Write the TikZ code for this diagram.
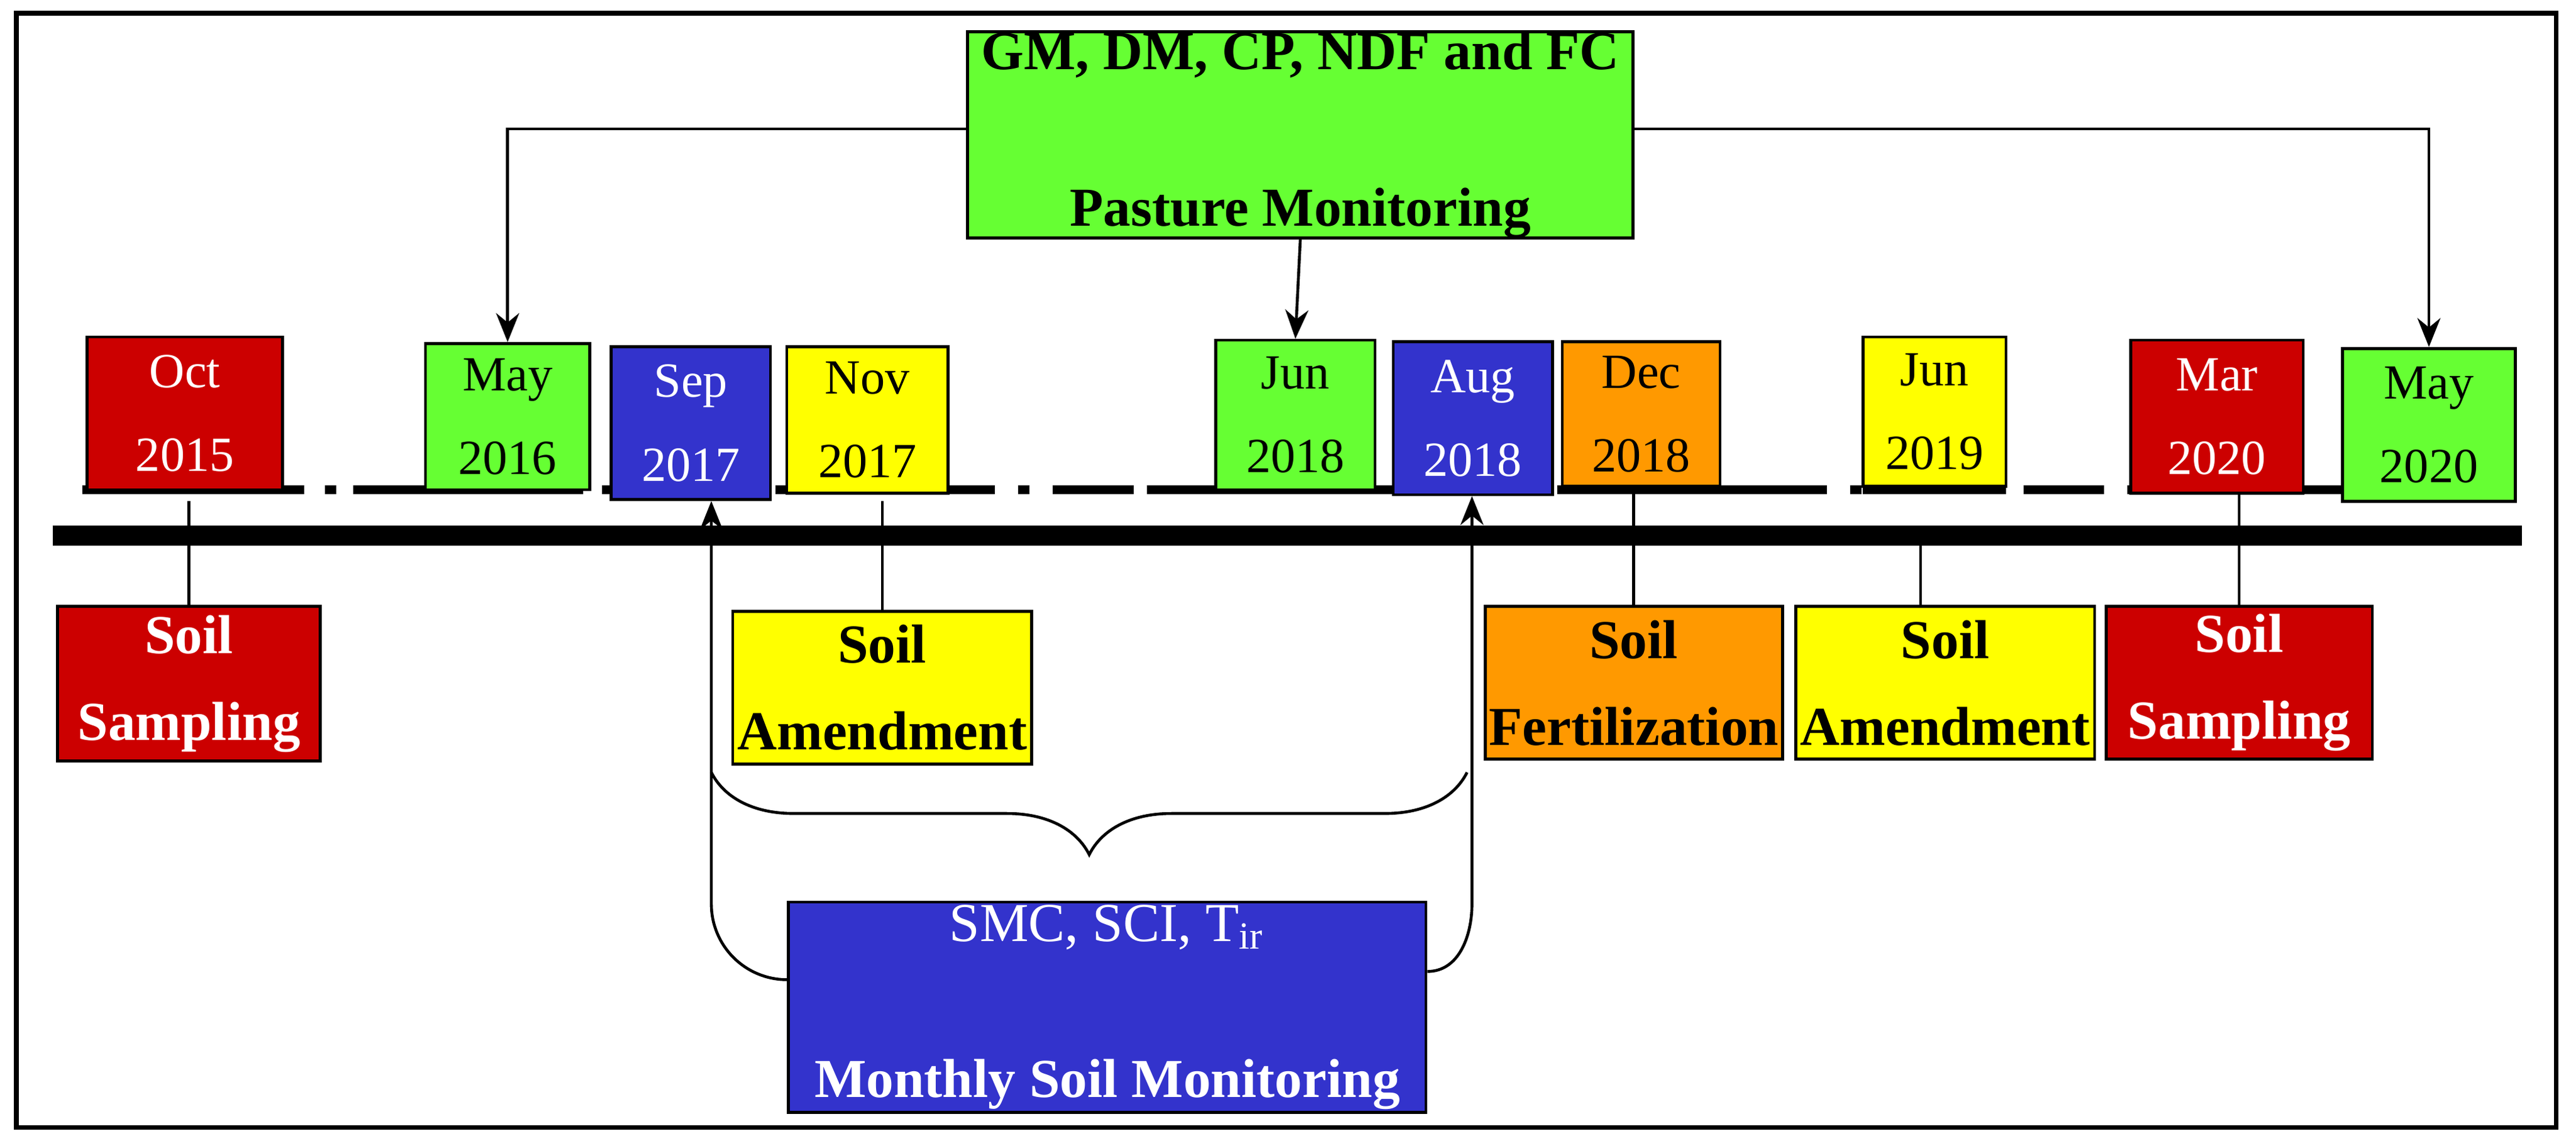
\documentclass[tikz,border=0pt]{standalone}
\usepackage{fontspec}
\setmainfont{Liberation Serif}
\usetikzlibrary{decorations.pathreplacing,arrows.meta}
\definecolor{cred}{RGB}{204,0,0}
\definecolor{cgreen}{RGB}{102,255,51}
\definecolor{cblue}{RGB}{51,51,204}
\definecolor{cyel}{RGB}{255,255,0}
\definecolor{corg}{RGB}{255,153,0}
\tikzset{
 bx/.style={draw=black,line width=0.5pt,align=center,inner sep=0pt},
 date/.style={bx,font=\fontsize{8.5}{10.5}\selectfont},
 lab/.style={bx,font=\bfseries\fontsize{9.5}{13}\selectfont},
 wt/.style={text=white},
 arr/.style={line width=0.5pt,-{Stealth[length=5pt,width=4pt]}},
 ln/.style={line width=0.5pt}
}
\newcommand{\mybox}[7]{\node[#6,minimum width={(#4-#2)*0.01cm},minimum height={(#5-#3)*0.01cm}] (#1) at ({(#2+#4)/2},{(#3+#5)/2}) {#7};}
\begin{document}
\begin{tikzpicture}[x=0.01cm,y=-0.01cm]
\useasboundingbox (0,0) rectangle (1568,694);
\draw[line width=0.8pt] (10,8) rectangle (1556,686);
\coordinate (tl1) at (32,326); \coordinate (tl2) at (1535,326);
\draw[line width=3.5pt] (tl1) -- (tl2);
\coordinate (d1) at (50,298); \coordinate (d2) at (1510,298);
\draw[line width=1.5pt,dash pattern=on 14pt off 4pt on 2pt off 4pt] (d1) -- (d2);
\foreach \a/\b in {50/185,215/355,479/577,698/840,948/1080,1134/1221,1297/1402,1426/1510}
  \draw[line width=1.6pt] (\a,298) -- (\b,298);
% date boxes
\mybox{oct}{53}{205}{172}{298}{date,fill=cred,wt}{Oct\\[4pt]2015}
\mybox{may16}{259}{209}{359}{298}{date,fill=cgreen}{May\\[4pt]2016}
\mybox{sep}{372}{211}{469}{304}{date,fill=cblue,wt}{Sep\\[4pt]2017}
\mybox{nov}{479}{211}{577}{300}{date,fill=cyel}{Nov\\[4pt]2017}
\mybox{jun18}{740}{207}{837}{298}{date,fill=cgreen}{Jun\\[4pt]2018}
\mybox{aug}{848}{208}{945}{301}{date,fill=cblue,wt}{Aug\\[4pt]2018}
\mybox{dec}{951}{208}{1047}{296}{date,fill=corg}{Dec\\[4pt]2018}
\mybox{jun19}{1134}{205}{1221}{296}{date,fill=cyel}{Jun\\[4pt]2019}
\mybox{mar}{1297}{207}{1402}{300}{date,fill=cred,wt}{Mar\\[4pt]2020}
\mybox{may20}{1426}{212}{1531}{305}{date,fill=cgreen}{May\\[4pt]2020}
% top box
\mybox{top}{589}{24}{994}{140}{lab,fill=cgreen}{GM, DM, CP, NDF and FC\\[14pt]Pasture Monitoring}
\draw[arr] ([yshift=-0.6cm]top.north west) -| (may16.north);
\draw[arr] (top.south) -- (jun18.north);
\draw[arr] ([yshift=-0.6cm]top.north east) -| (may20.north);
% bottom labels
\mybox{ss1}{35}{369}{195}{463}{lab,fill=cred,wt}{Soil\\[2pt]Sampling}
\mybox{sa1}{446}{372}{628}{465}{lab,fill=cyel}{Soil\\[2pt]Amendment}
\mybox{sf}{904}{369}{1085}{462}{lab,fill=corg}{Soil\\[2pt]Fertilization}
\mybox{sa2}{1093}{369}{1275}{462}{lab,fill=cyel}{Soil\\[2pt]Amendment}
\mybox{ss2}{1282}{369}{1444}{462}{lab,fill=cred,wt}{Soil\\[2pt]Sampling}
\draw[ln] (oct.south -| ss1.north) ++(0,6) -- (ss1.north);
\draw[ln] (nov.south -| sa1.north) ++(0,4) -- (sa1.north);
\draw[ln] (dec.south -| sf.north) -- (sf.north);
\draw[ln] (1169,330) coordinate (c1) -- (c1 |- sa2.north);
\draw[ln] (mar.south -| ss2.north) -- (ss2.north);
% monthly soil monitoring
\mybox{smc}{480}{549}{868}{677}{bx,fill=cblue,text=white,font=\fontsize{9.5}{13}\selectfont}{SMC, SCI, T$_{\mathrm{ir}}$\\[14pt]\textbf{Monthly Soil Monitoring}}
\draw[arr] ([yshift=-0.48cm]smc.north west) to[out=180,in=-90] (433,550) coordinate (l1) -- (l1 |- sep.south);
\draw[arr] ([yshift=-0.43cm]smc.north east) to[out=0,in=-90] (896,550) coordinate (r1) -- (r1 |- aug.south);
\coordinate (b1) at (433,470); \coordinate (b2) at (893,470);
\draw[ln,decorate,decoration={brace,mirror,amplitude=0.5cm}] (b1) -- (b2);
\end{tikzpicture}
\end{document}
